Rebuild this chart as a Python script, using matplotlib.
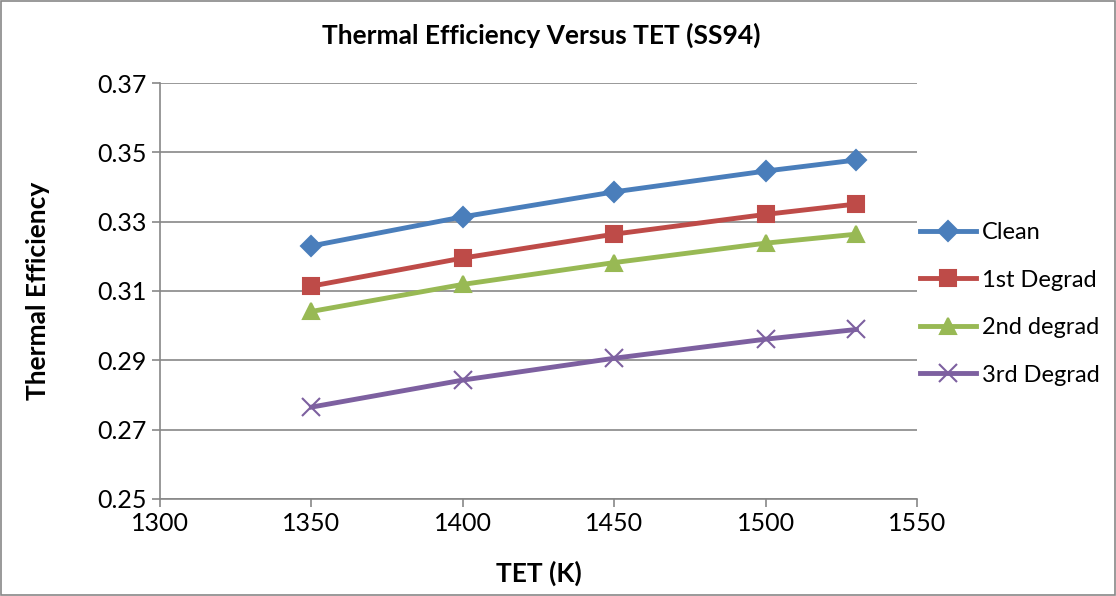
import matplotlib.pyplot as plt
from matplotlib.patches import Rectangle

plt.rcParams['font.family'] = ['Lato', 'DejaVu Sans']

tet = [1350, 1400, 1450, 1500, 1530]
clean = [0.3230, 0.3314, 0.3386, 0.3446, 0.3478]
deg1 = [0.3114, 0.3195, 0.3264, 0.3321, 0.3351]
deg2 = [0.3041, 0.3119, 0.3182, 0.3238, 0.3264]
deg3 = [0.2765, 0.2843, 0.2906, 0.2961, 0.2989]

names = ['Clean', '1st Degrad', '2nd degrad', '3rd Degrad']
colors = ['#4A7EBB', '#BE4B48', '#98B954', '#7D60A0']
markers = ['D', 's', '^', 'x']
sizes = [10, 12, 12, 13]

fig = plt.figure(figsize=(11.16, 5.96), dpi=100)
ax = fig.add_axes([0.1434, 0.1628, 0.8217 - 0.1434, 0.8607 - 0.1628])

for vals, nm, c, m, s in zip([clean, deg1, deg2, deg3], names, colors, markers, sizes):
    ax.plot(tet, vals, color=c, lw=3.5, marker=m, ms=s, mew=1.5,
            mec=c, mfc=c, label=nm)

ax.set_xlim(1300, 1550)
ax.set_ylim(0.25, 0.37)
ax.set_xticks(range(1300, 1551, 50))
ax.set_yticks([0.25, 0.27, 0.29, 0.31, 0.33, 0.35, 0.37])
ax.set_yticklabels(['0.25', '0.27', '0.29', '0.31', '0.33', '0.35', '0.37'])
ax.yaxis.grid(True, color='#878787', lw=1.2)
ax.set_axisbelow(True)
for sp in ['top', 'right']:
    ax.spines[sp].set_visible(False)
for sp in ['left', 'bottom']:
    ax.spines[sp].set_color('#878787')
    ax.spines[sp].set_linewidth(1.2)
ax.tick_params(axis='both', colors='#878787', labelcolor='black',
               labelsize=18, length=6, width=1.2, direction='out')

ax.set_xlabel('TET (K)', fontsize=19, fontweight='bold', labelpad=18)
ax.set_ylabel('Thermal Efficiency', fontsize=19, fontweight='bold', labelpad=34)
fig.text(0.485, 0.94, 'Thermal Efficiency Versus TET (SS94)', ha='center',
         va='center', fontsize=19, fontweight='bold')

fig.legend(loc='center left', bbox_to_anchor=(0.805, 0.49), frameon=False,
           fontsize=17, handlelength=2.4, labelspacing=1.12, handletextpad=0.25)

fig.patches.append(Rectangle((0.001, 0.001), 0.998, 0.997, transform=fig.transFigure,
                             fill=False, edgecolor='#878787', lw=1.2))

fig.savefig('out.png', dpi=100)
